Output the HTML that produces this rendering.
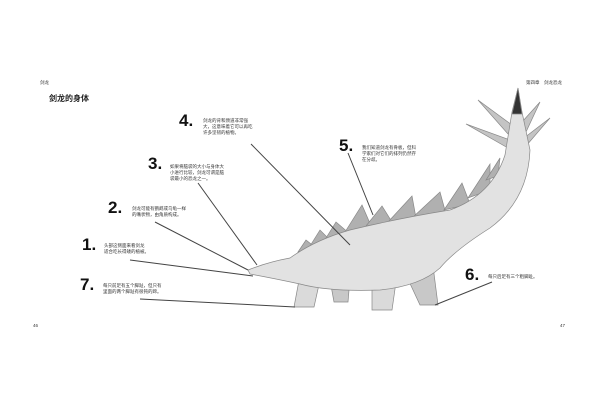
<!DOCTYPE html>
<html><head><meta charset="utf-8"><style>
body{margin:0;background:#fff}
svg{display:block}
.t{font-family:"Liberation Sans","Noto Sans CJK SC",sans-serif;font-size:4.5px;fill:#333}
.n{font-family:"Liberation Sans",sans-serif;font-weight:900;font-size:17px;fill:#111}
.l{stroke:#444;stroke-width:1;fill:none}
</style></head><body>
<svg width="600" height="400" viewBox="0 0 600 400">
<text x="40" y="84" class="t">剑龙</text>
<text x="526" y="84" class="t">第四章　剑龙恐龙</text>
<text x="49" y="101" style="font-family:'Liberation Sans','Noto Sans CJK SC',sans-serif;font-size:8px;font-weight:bold" fill="#222">剑龙的身体</text>
<text x="33" y="327" class="t" font-size="6">46</text>
<text x="560" y="327" class="t" font-size="6">47</text>
<g stroke="#888" stroke-width="0.7">
<path d="M512 125 L478 100 L508 134Z" fill="#c4c4c4"/>
<path d="M510 140 L466 124 L508 148Z" fill="#c4c4c4"/>
<path d="M522 122 L540 102 L526 132Z" fill="#c4c4c4"/>
<path d="M524 138 L550 118 L526 146Z" fill="#c4c4c4"/>
<path d="M298 252 L306 240 L316 248Z" fill="#b0b0b0"/>
<path d="M310 246 L320 230 L332 242Z" fill="#b0b0b0"/>
<path d="M326 238 L336 222 L350 234Z" fill="#b0b0b0"/>
<path d="M345 232 L362 205 L372 228Z" fill="#b0b0b0"/>
<path d="M366 226 L382 206 L392 222Z" fill="#b0b0b0"/>
<path d="M388 222 L412 196 L416 218Z" fill="#b0b0b0"/>
<path d="M412 218 L440 192 L446 214Z" fill="#b0b0b0"/>
<path d="M444 210 L462 183 L470 204Z" fill="#b0b0b0"/>
<path d="M468 198 L490 164 L490 190Z" fill="#b0b0b0"/>
<path d="M486 180 L500 158 L498 176Z" fill="#b0b0b0"/>
<path d="M330 280 L334 302 L348 302 L350 278Z" fill="#c8c8c8"/>
<path d="M400 262 L420 305 L438 305 L432 258Z" fill="#c8c8c8"/>
<path d="M300 275 L294 307 L314 307 L320 280Z" fill="#dadada"/>
<path d="M372 270 L372 310 L392 310 L398 268Z" fill="#dadada"/>
<path d="M248 270 Q268 262 290 258 Q315 240 350 230 Q400 218 450 210 Q492 195 505 155 L512 112 L518 88 L522 112 L530 150 Q528 200 490 228 Q455 250 440 268 Q420 286 380 290 Q330 292 300 284 Q272 278 250 274Z" fill="#e2e2e2"/>
<path d="M512 114 L518 88 L522 114Z" fill="#333"/>
</g>
<line class="l" x1="251" y1="144" x2="350" y2="245"/>
<line class="l" x1="198" y1="183" x2="257" y2="265"/>
<line class="l" x1="155" y1="222" x2="248" y2="270"/>
<line class="l" x1="130" y1="260" x2="253" y2="276"/>
<line class="l" x1="140" y1="299" x2="295" y2="307"/>
<line class="l" x1="348" y1="153" x2="373" y2="215"/>
<line class="l" x1="492" y1="282" x2="435" y2="305"/>
<text x="179" y="126" class="n">4.</text>
<text x="203" y="122" class="t">剑龙的背和颈道非常强</text>
<text x="203" y="128" class="t">大，这意味着它可以再吃</text>
<text x="203" y="134" class="t">许多坚韧的植物。</text>
<text x="148" y="169" class="n">3.</text>
<text x="170" y="168" class="t">如果将脑袋的大小与身体大</text>
<text x="170" y="174" class="t">小进行比较，剑龙可谓是脑</text>
<text x="170" y="180" class="t">袋最小的恐龙之一。</text>
<text x="108" y="213" class="n">2.</text>
<text x="132" y="210" class="t">剑龙可能有鹦鹉或乌龟一样</text>
<text x="132" y="216" class="t">的嘴状物，由角质构成。</text>
<text x="82" y="250" class="n">1.</text>
<text x="104" y="247" class="t">头部这侧面来看剑龙</text>
<text x="104" y="253" class="t">适合吃长得矮的植被。</text>
<text x="80" y="290" class="n">7.</text>
<text x="103" y="287" class="t">每只前足有五个脚趾，但只有</text>
<text x="103" y="293" class="t">里面的两个脚趾有很钝的蹄。</text>
<text x="339" y="151" class="n">5.</text>
<text x="362" y="149" class="t">我们知道剑龙有骨板，但科</text>
<text x="362" y="155" class="t">学家们对它们的排列仍然存</text>
<text x="362" y="161" class="t">在分歧。</text>
<text x="465" y="280" class="n">6.</text>
<text x="488" y="278" class="t">每只后足有三个粗脚趾。</text>
</svg>
</body></html>
